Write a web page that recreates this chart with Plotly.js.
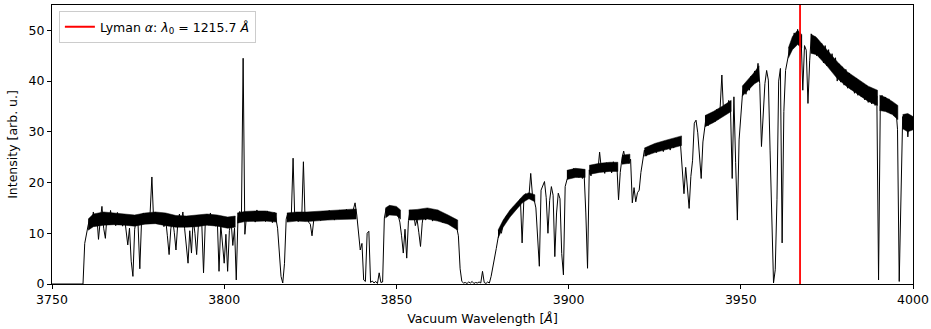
<!DOCTYPE html>
<html>
<head>
<meta charset="utf-8">
<script src="https://cdn.plot.ly/plotly-3.0.1.min.js"></script>
<style>html,body{margin:0;padding:0;background:#fff;}#chart{width:931px;height:329px;}</style>
</head>
<body>
<div id="chart"></div>
<script>
// Vacuum wavelength grid [Å] (rows of 5 Å)
const wavelength = [
3750,3750.5,3751,3751.5,3752,3752.5,3753,3753.5,3754,3754.5,
3755,3755.5,3756,3756.5,3757,3757.5,3758,3758.5,3759,3759.5,
3760,3760.5,3761,3761.5,3762,3762.5,3763,3763.5,3764,3764.5,
3765,3765.5,3766,3766.5,3767,3767.5,3768,3768.5,3769,3769.5,
3770,3770.5,3771,3771.5,3772,3772.5,3773,3773.5,3774,3774.5,
3775,3775.5,3776,3776.5,3777,3777.5,3778,3778.5,3779,3779.5,
3780,3780.5,3781,3781.5,3782,3782.5,3783,3783.5,3784,3784.5,
3785,3785.5,3786,3786.5,3787,3787.5,3788,3788.5,3789,3789.5,
3790,3790.5,3791,3791.5,3792,3792.5,3793,3793.5,3794,3794.5,
3795,3795.5,3796,3796.5,3797,3797.5,3798,3798.5,3799,3799.5,
3800,3800.5,3801,3801.5,3802,3802.5,3803,3803.5,3804,3804.5,
3805,3805.5,3806,3806.5,3807,3807.5,3808,3808.5,3809,3809.5,
3810,3810.5,3811,3811.5,3812,3812.5,3813,3813.5,3814,3814.5,
3815,3815.5,3816,3816.5,3817,3817.5,3818,3818.5,3819,3819.5,
3820,3820.5,3821,3821.5,3822,3822.5,3823,3823.5,3824,3824.5,
3825,3825.5,3826,3826.5,3827,3827.5,3828,3828.5,3829,3829.5,
3830,3830.5,3831,3831.5,3832,3832.5,3833,3833.5,3834,3834.5,
3835,3835.5,3836,3836.5,3837,3837.5,3838,3838.5,3839,3839.5,
3840,3840.5,3841,3841.5,3842,3842.5,3843,3843.5,3844,3844.5,
3845,3845.5,3846,3846.5,3847,3847.5,3848,3848.5,3849,3849.5,
3850,3850.5,3851,3851.5,3852,3852.5,3853,3853.5,3854,3854.5,
3855,3855.5,3856,3856.5,3857,3857.5,3858,3858.5,3859,3859.5,
3860,3860.5,3861,3861.5,3862,3862.5,3863,3863.5,3864,3864.5,
3865,3865.5,3866,3866.5,3867,3867.5,3868,3868.5,3869,3869.5,
3870,3870.5,3871,3871.5,3872,3872.5,3873,3873.5,3874,3874.5,
3875,3875.5,3876,3876.5,3877,3877.5,3878,3878.5,3879,3879.5,
3880,3880.5,3881,3881.5,3882,3882.5,3883,3883.5,3884,3884.5,
3885,3885.5,3886,3886.5,3887,3887.5,3888,3888.5,3889,3889.5,
3890,3890.5,3891,3891.5,3892,3892.5,3893,3893.5,3894,3894.5,
3895,3895.5,3896,3896.5,3897,3897.5,3898,3898.5,3899,3899.5,
3900,3900.5,3901,3901.5,3902,3902.5,3903,3903.5,3904,3904.5,
3905,3905.5,3906,3906.5,3907,3907.5,3908,3908.5,3909,3909.5,
3910,3910.5,3911,3911.5,3912,3912.5,3913,3913.5,3914,3914.5,
3915,3915.5,3916,3916.5,3917,3917.5,3918,3918.5,3919,3919.5,
3920,3920.5,3921,3921.5,3922,3922.5,3923,3923.5,3924,3924.5,
3925,3925.5,3926,3926.5,3927,3927.5,3928,3928.5,3929,3929.5,
3930,3930.5,3931,3931.5,3932,3932.5,3933,3933.5,3934,3934.5,
3935,3935.5,3936,3936.5,3937,3937.5,3938,3938.5,3939,3939.5,
3940,3940.5,3941,3941.5,3942,3942.5,3943,3943.5,3944,3944.5,
3945,3945.5,3946,3946.5,3947,3947.5,3948,3948.5,3949,3949.5,
3950,3950.5,3951,3951.5,3952,3952.5,3953,3953.5,3954,3954.5,
3955,3955.5,3956,3956.5,3957,3957.5,3958,3958.5,3959,3959.5,
3960,3960.5,3961,3961.5,3962,3962.5,3963,3963.5,3964,3964.5,
3965,3965.5,3966,3966.5,3967,3967.5,3968,3968.5,3969,3969.5,
3970,3970.5,3971,3971.5,3972,3972.5,3973,3973.5,3974,3974.5,
3975,3975.5,3976,3976.5,3977,3977.5,3978,3978.5,3979,3979.5,
3980,3980.5,3981,3981.5,3982,3982.5,3983,3983.5,3984,3984.5,
3985,3985.5,3986,3986.5,3987,3987.5,3988,3988.5,3989,3989.5,
3990,3990.5,3991,3991.5,3992,3992.5,3993,3993.5,3994,3994.5,
3995,3995.5,3996,3996.5,3997,3997.5,3998,3998.5,3999,3999.5,
4000
];

// Intensity [arb. u.], same rows
const intensity = [
0,0,0,0,0,0,0,0,0,0,
0,0,0,0,0,0,0,0,0,8.0,
10.0,11.6,12.9,11.4,14.2,12.0,13.6,8.8,12.5,15.3,
11.0,9.0,13.8,11.9,14.5,12.2,13.0,11.5,14.1,12.6,
13.2,11.4,13.5,10.8,7.7,11.0,4.5,1.5,10.8,12.9,
11.5,3.0,12.4,14.0,12.2,13.6,11.9,14.1,21.1,12.6,
14.2,12.0,13.8,12.5,14.0,11.3,12.8,9.5,5.8,10.9,
12.9,10.2,6.7,11.8,13.8,12.1,14.2,11.0,8.0,4.1,
10.5,6.1,12.9,10.0,5.8,11.5,13.6,11.8,2.2,12.0,
13.4,11.6,14.0,12.1,13.5,11.4,12.6,2.5,11.8,8.5,
4.1,9.8,2.5,10.5,12.5,7.6,11.0,0.8,13.0,14.3,
12.9,44.5,9.8,13.6,12.4,14.2,12.8,13.9,12.2,14.6,
12.6,14.0,12.9,13.7,12.3,14.4,12.7,13.5,12.1,14.1,
13.0,11.0,5.5,1.5,0.2,4.0,12.8,14.0,12.6,13.8,
24.8,12.6,13.9,12.3,14.1,12.8,24.1,12.4,13.6,12.2,
11.8,9.5,12.6,14.0,12.9,13.8,12.5,14.3,12.8,13.9,
12.7,14.5,13.1,13.9,12.6,14.2,13.0,14.6,12.9,13.8,
13.3,14.7,13.0,14.1,13.4,14.9,16.0,13.6,9.5,6.7,
8.0,0.8,0.5,10.0,10.4,0.3,0.6,0.2,0.5,0.1,
2.2,0.3,0.4,13.0,14.8,13.6,15.4,14.0,15.2,13.8,
14.9,13.4,12.2,9.5,6.1,10.8,5.1,12.5,14.6,12.8,
14.0,11.5,12.8,10.2,7.4,12.0,14.3,12.6,14.8,13.0,
14.5,12.4,13.9,12.8,14.6,12.5,13.8,12.1,13.5,12.4,
13.2,11.9,12.8,11.6,12.3,11.2,9.5,3.0,0.5,0.2,
0.3,0.1,0.4,0.2,0.5,0.1,0.3,0.2,0.4,0.2,
2.5,0.3,0.1,0.4,0.2,1.5,3.2,4.8,7.0,9.0,
10.7,10.0,12.0,12.6,13.5,13.0,14.4,14.0,15.2,14.8,
15.9,15.3,16.8,8.1,16.5,17.8,16.9,17.4,21.8,17.5,
16.6,15.0,8.0,3.5,18.5,19.4,20.2,17.0,10.0,16.5,
19.2,17.5,5.4,14.0,17.9,16.8,6.0,1.8,19.2,20.5,
21.5,22.3,20.9,22.8,21.2,22.5,21.0,22.6,20.8,21.8,
14.0,3.1,22.5,21.3,23.4,22.0,23.6,22.2,26.0,22.7,
23.0,21.8,23.9,22.3,23.4,21.9,24.1,22.5,23.6,16.6,
22.0,24.8,26.2,24.3,25.0,23.8,24.6,16.0,19.0,16.2,
18.0,18.5,22.0,24.4,26.4,25.2,27.0,25.6,27.4,26.0,
27.5,25.9,27.2,26.3,27.9,26.1,27.6,26.6,28.1,26.4,
28.0,26.8,28.6,27.2,28.9,27.5,22.0,17.8,23.0,19.5,
14.9,21.2,24.4,31.7,32.3,29.8,24.5,20.8,28.0,30.5,
33.3,31.2,33.5,31.8,33.9,32.0,34.4,32.5,34.7,41.2,
33.6,35.4,34.0,36.2,34.8,20.8,36.9,24.0,12.6,28.4,
33.0,37.6,39.2,37.4,40.0,38.2,41.0,39.4,42.0,40.8,
43.5,39.5,27.1,33.7,39.5,42.1,40.2,26.4,10.0,0.2,
2.8,16.6,40.0,42.5,8.1,34.0,42.1,44.0,45.4,47.5,
46.5,49.5,48.0,50.2,47.2,49.0,38.2,47.0,46.1,35.6,
44.0,49.3,45.5,48.8,45.0,48.0,44.6,47.4,43.6,47.0,
43.0,46.2,42.5,45.4,41.8,44.6,40.0,43.4,39.8,42.8,
39.2,42.3,38.6,41.6,38.4,40.9,37.6,40.6,37.2,40.0,
36.9,39.5,36.3,39.2,35.8,38.7,35.5,38.2,35.2,37.0,
0.8,35.0,37.2,34.6,36.8,34.0,36.5,33.6,35.8,33.2,
35.0,30.5,0.5,17.9,33.0,31.0,33.5,29.0,32.8,30.6,
32.5
];

// Noise band of the continuum (lower / upper edge); null separates segments
const bandWavelength = [
3760.5,3762,3765,3768,3771,3774,3777,3780,3783,3786,3789,3792,3795,3798,3801,3803.2, null,
3803.8,3806,3809,3812,3815.2, null,
3818.2,3821,3824,3827,3830,3833,3836,3838.3, null,
3846.8,3848,3850,3851.2, null,
3853.6,3856,3859,3862,3865,3867.8, null,
3879.5,3881,3883,3885,3886.3,3887,3888.5,3890.2, null,
3899.5,3902,3904.8, null,
3906,3909,3912,3914.3, null,
3915.5,3917.8, null,
3922,3925,3928,3931,3932.8, null,
3939.6,3942,3945,3947.2, null,
3950.4,3952,3954,3955.3, null,
3963.8,3965,3966.5,3967.7, null,
3970.3,3972,3975,3978,3981,3984,3987,3989.7, null,
3990.3,3992,3994,3995.6, null,
3997,3998.5,4000
];
const bandLow = [
10.6,11.3,11.6,11.7,11.6,11.4,11.8,11.9,11.5,11.2,11.2,11.3,11.6,11.4,11.0,11.2, null,
12.0,12.3,12.4,12.4,12.2, null,
12.2,12.4,12.3,12.5,12.6,12.7,12.8,12.8, null,
13.0,13.6,13.5,12.8, null,
12.6,12.6,12.8,12.4,11.8,10.6, null,
9.0,11.2,13.2,14.8,15.8,16.2,16.8,16.2, null,
20.6,21.0,21.0, null,
21.6,22.0,22.2,22.2, null,
23.6,23.8, null,
25.2,25.9,26.5,27.0,27.3, null,
31.0,31.8,33.0,34.0, null,
37.0,38.0,39.5,40.0, null,
44.5,46.2,47.2,46.5, null,
45.5,45.2,43.0,40.5,38.8,37.4,36.0,35.2, null,
34.2,34.0,33.4,32.4, null,
30.6,30.0,30.4
];
const bandHigh = [
12.8,13.8,14.2,14.0,13.9,13.6,14.0,14.2,14.0,13.5,13.4,13.6,13.8,13.6,13.2,13.4, null,
14.0,14.3,14.4,14.4,14.0, null,
14.0,14.2,14.2,14.3,14.4,14.5,14.7,14.8, null,
15.0,15.5,15.3,14.6, null,
14.6,14.7,15.0,14.6,13.6,12.6, null,
10.6,12.6,14.6,16.0,17.0,17.6,18.0,17.6, null,
22.4,22.8,22.6, null,
23.4,23.8,24.0,24.0, null,
25.4,25.6, null,
26.8,27.7,28.3,28.8,29.2, null,
33.2,34.0,35.2,36.2, null,
39.0,40.2,41.8,43.0, null,
46.5,48.8,50.0,49.2, null,
49.3,48.6,46.2,43.8,41.8,40.4,39.0,38.2, null,
37.2,36.8,36.0,35.2, null,
33.4,33.6,33.0
];

// Observed Lyman alpha position and axis setup
const lymanAlphaObserved = 3967.2;
const lymanLabel = 'Lyman <i>α</i>: <i>λ</i><sub>0</sub> = 1215.7 <i>Å</i>';
const xRange = [3750, 4000];
const yRange = [0, 55];
const xTicks = [3750, 3800, 3850, 3900, 3950, 4000];
const yTicks = [0, 10, 20, 30, 40, 50];

const FONT = 'DejaVu Sans, sans-serif';

// Build closed polygons for each band segment
const bandTraces = [];
let seg = {x: [], lo: [], hi: []};
function flush() {
  if (seg.x.length > 1) {
    const xs = seg.x.concat(seg.x.slice().reverse());
    const ys = seg.hi.concat(seg.lo.slice().reverse());
    bandTraces.push({
      x: xs, y: ys, type: 'scatter', mode: 'lines', fill: 'toself',
      fillcolor: '#000000', line: {color: '#000000', width: 0.5},
      showlegend: false, hoverinfo: 'skip'
    });
  }
  seg = {x: [], lo: [], hi: []};
}
for (let i = 0; i < bandWavelength.length; i++) {
  if (bandWavelength[i] === null) { flush(); continue; }
  seg.x.push(bandWavelength[i]); seg.lo.push(bandLow[i]); seg.hi.push(bandHigh[i]);
}
flush();

const traces = bandTraces.concat([
  {
    x: wavelength, y: intensity, type: 'scatter', mode: 'lines',
    line: {color: '#000000', width: 1.0}, showlegend: false, hoverinfo: 'skip'
  },
  {
    x: [lymanAlphaObserved, lymanAlphaObserved], y: yRange, type: 'scatter', mode: 'lines',
    line: {color: '#ff0000', width: 1.8}, name: lymanLabel, showlegend: true
  }
]);

const axisCommon = {
  showline: true, mirror: true, linecolor: '#000', linewidth: 1,
  ticks: 'outside', ticklen: 4, tickwidth: 1, tickcolor: '#000',
  showgrid: false, zeroline: false,
  tickfont: {family: FONT, size: 12.5, color: '#000'}
};

const layout = {
  width: 931, height: 329,
  margin: {l: 52, r: 18, t: 5, b: 45},
  paper_bgcolor: '#fff', plot_bgcolor: '#fff',
  font: {family: FONT, size: 12.5, color: '#000'},
  showlegend: true,
  xaxis: Object.assign({}, axisCommon, {
    range: xRange, tickvals: xTicks, ticktext: xTicks.map(String),
    title: {text: 'Vacuum Wavelength [<i>Å</i>]', font: {family: FONT, size: 12.5}, standoff: 8}
  }),
  yaxis: Object.assign({}, axisCommon, {
    range: yRange, tickvals: yTicks, ticktext: yTicks.map(String),
    title: {text: 'Intensity [arb. u.]', font: {family: FONT, size: 12.5}, standoff: 8}
  }),
  legend: {
    x: 0.008, y: 0.978, xanchor: 'left', yanchor: 'top',
    bgcolor: '#fff', bordercolor: '#cccccc', borderwidth: 1,
    font: {family: FONT, size: 12.5, color: '#000'},
    itemwidth: 30, tracegroupgap: 0
  }
};

Plotly.newPlot('chart', traces, layout, {staticPlot: true, displayModeBar: false});
</script>
</body>
</html>
